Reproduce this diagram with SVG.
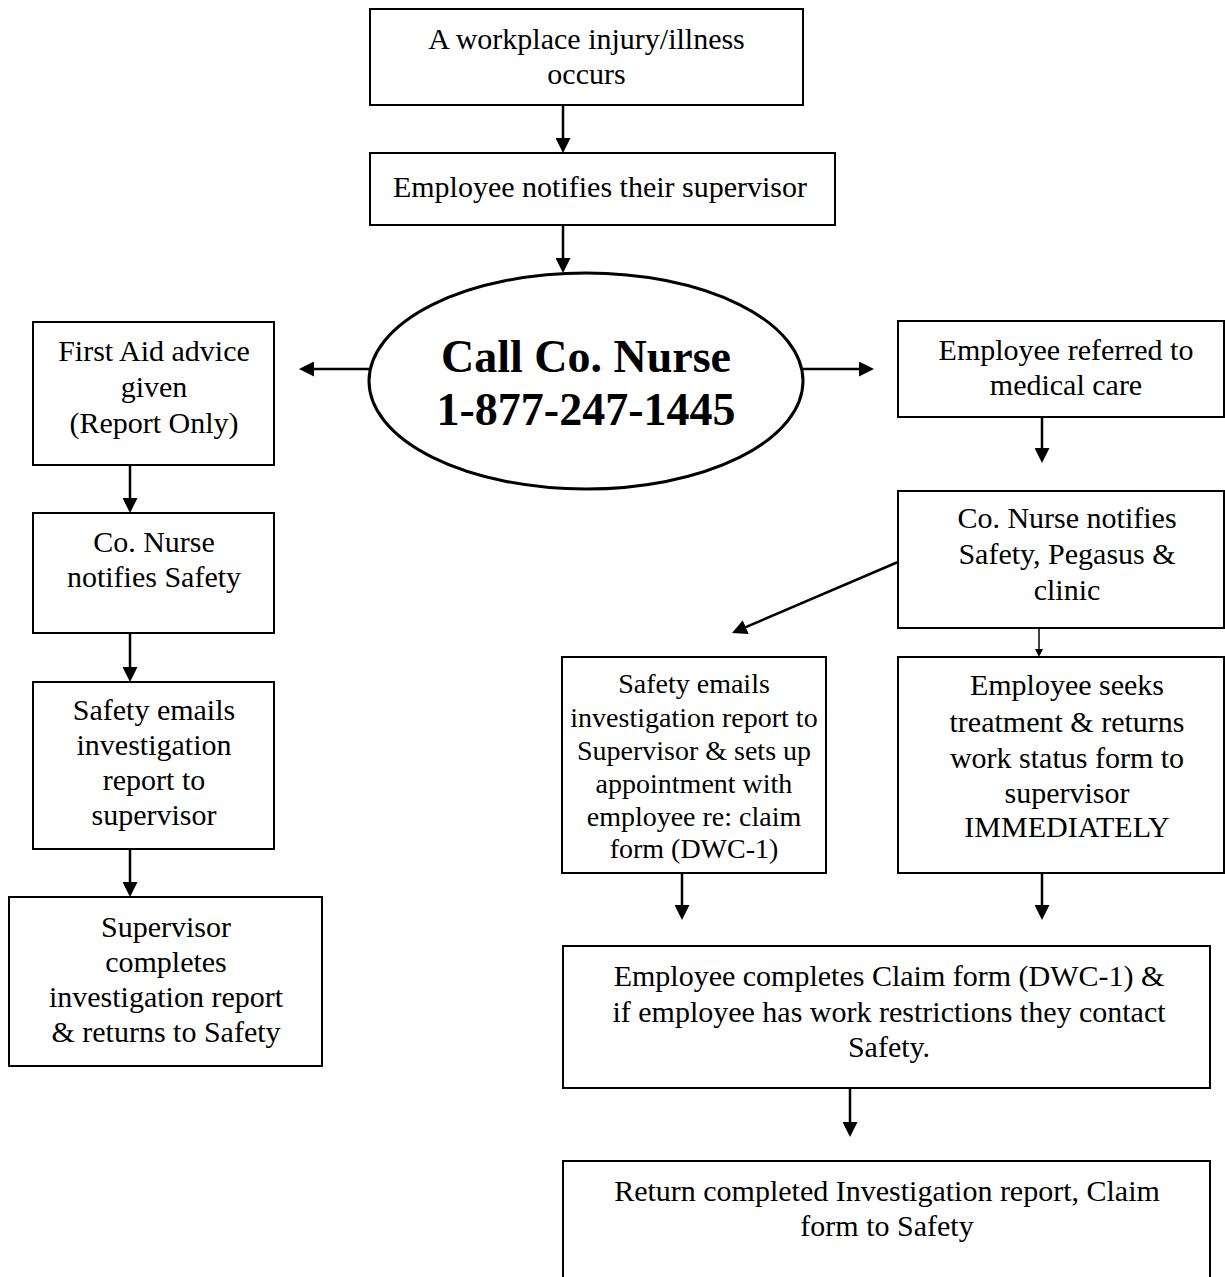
<svg xmlns="http://www.w3.org/2000/svg" width="1225" height="1277" viewBox="0 0 1225 1277">
<style>
.box{fill:#fff;stroke:#000;stroke-width:2}
.t{font-family:"Liberation Serif","Times New Roman",serif;font-size:30px;fill:#000;text-anchor:middle}
.s{font-size:28px}
.b{font-weight:bold;font-size:46px}
.c{stroke:#000;stroke-width:2.5;fill:none;marker-end:url(#ah)}
.thin{stroke:#000;stroke-width:1.5;fill:none;marker-end:url(#ahs)}
</style>
<defs>
<marker id="ah" markerUnits="userSpaceOnUse" markerWidth="15" markerHeight="15" viewBox="0 0 15 15" refX="9" refY="7.5" orient="auto">
<path d="M0,0 L15,7.5 L0,15 z" fill="#000"/>
</marker>
<marker id="ahs" markerUnits="userSpaceOnUse" markerWidth="8" markerHeight="8" viewBox="0 0 8 8" refX="5" refY="4" orient="auto">
<path d="M0,0 L8,4 L0,8 z" fill="#000"/>
</marker>
</defs>
<rect width="1225" height="1277" fill="#fff"/>

<g id="connectors">
<line class="c" x1="563" y1="105" x2="563" y2="147"/>
<line class="c" x1="563" y1="225" x2="563" y2="267"/>
<line class="c" x1="370" y1="369" x2="305" y2="369"/>
<line class="c" x1="803" y1="369" x2="868" y2="369"/>
<line class="c" x1="130" y1="465" x2="130" y2="507"/>
<line class="c" x1="130" y1="633" x2="130" y2="676"/>
<line class="c" x1="130" y1="849" x2="130" y2="891"/>
<line class="c" x1="1042" y1="417" x2="1042" y2="457"/>
<line class="c" x1="898" y1="562" x2="737.5" y2="630.6"/>
<line class="thin" x1="1039" y1="628" x2="1039" y2="654"/>
<line class="c" x1="682" y1="873" x2="682" y2="914"/>
<line class="c" x1="1042" y1="873" x2="1042" y2="914"/>
<line class="c" x1="850" y1="1088" x2="850" y2="1131"/>
</g>

<g id="n1">
<rect class="box" x="370" y="9" width="433" height="96"/>
<text class="t" x="586.5" y="49">A workplace injury/illness</text>
<text class="t" x="586.5" y="84">occurs</text>
</g>
<g id="n2">
<rect class="box" x="370" y="153" width="465" height="72"/>
<text class="t" x="600" y="197">Employee notifies their supervisor</text>
</g>
<g id="n3">
<ellipse cx="586" cy="381" rx="217" ry="108" fill="#fff" stroke="#000" stroke-width="3"/>
<text class="t b" x="586" y="372">Call Co. Nurse</text>
<text class="t b" x="586" y="425">1-877-247-1445</text>
</g>
<g id="n4">
<rect class="box" x="33" y="322" width="241" height="143"/>
<text class="t" x="154" y="361">First Aid advice</text>
<text class="t" x="154" y="397">given</text>
<text class="t" x="154" y="433">(Report Only)</text>
</g>
<g id="n5">
<rect class="box" x="33" y="513" width="241" height="120"/>
<text class="t" x="154" y="552">Co. Nurse</text>
<text class="t" x="154" y="587">notifies Safety</text>
</g>
<g id="n6">
<rect class="box" x="33" y="682" width="241" height="167"/>
<text class="t" x="154" y="720">Safety emails</text>
<text class="t" x="154" y="755">investigation</text>
<text class="t" x="154" y="790">report to</text>
<text class="t" x="154" y="825">supervisor</text>
</g>
<g id="n7">
<rect class="box" x="9" y="897" width="313" height="169"/>
<text class="t" x="166" y="937">Supervisor</text>
<text class="t" x="166" y="972">completes</text>
<text class="t" x="166" y="1007">investigation report</text>
<text class="t" x="166" y="1042">&amp; returns to Safety</text>
</g>
<g id="n8">
<rect class="box" x="898" y="321" width="326" height="96"/>
<text class="t" x="1066" y="360">Employee referred to</text>
<text class="t" x="1066" y="395">medical care</text>
</g>
<g id="n9">
<rect class="box" x="898" y="491" width="326" height="137"/>
<text class="t" x="1067" y="528">Co. Nurse notifies</text>
<text class="t" x="1067" y="564">Safety, Pegasus &amp;</text>
<text class="t" x="1067" y="600">clinic</text>
</g>
<g id="n10">
<rect class="box" x="562" y="657" width="264" height="216"/>
<text class="t s" x="694" y="693">Safety emails</text>
<text class="t s" x="694" y="727">investigation report to</text>
<text class="t s" x="694" y="760">Supervisor &amp; sets up</text>
<text class="t s" x="694" y="793">appointment with</text>
<text class="t s" x="694" y="826">employee re: claim</text>
<text class="t s" x="694" y="858">form (DWC-1)</text>
</g>
<g id="n11">
<rect class="box" x="898" y="657" width="326" height="216"/>
<text class="t" x="1067" y="695">Employee seeks</text>
<text class="t" x="1067" y="732">treatment &amp; returns</text>
<text class="t" x="1067" y="768">work status form to</text>
<text class="t" x="1067" y="803">supervisor</text>
<text class="t" x="1067" y="837">IMMEDIATELY</text>
</g>
<g id="n12">
<rect class="box" x="563" y="946" width="647" height="142"/>
<text class="t" x="889" y="986">Employee completes Claim form (DWC-1) &amp;</text>
<text class="t" x="889" y="1022">if employee has work restrictions they contact</text>
<text class="t" x="889" y="1057">Safety.</text>
</g>
<g id="n13">
<rect class="box" x="563" y="1161" width="647" height="130"/>
<text class="t" x="887" y="1201">Return completed Investigation report, Claim</text>
<text class="t" x="887" y="1236">form to Safety</text>
</g>
</svg>
